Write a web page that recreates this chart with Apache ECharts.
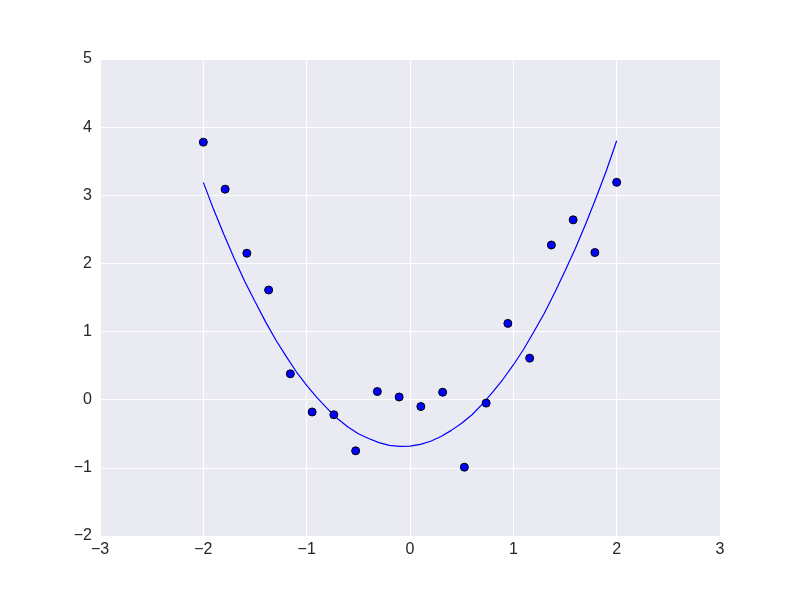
<!DOCTYPE html>
<html>
<head>
<meta charset="utf-8">
<script src="https://cdn.jsdelivr.net/npm/echarts@6/dist/echarts.min.js"></script>
<style>html,body{margin:0;padding:0;background:#fff}#c{width:800px;height:596px}</style>
</head>
<body>
<div id="c"></div>
<script>
// Scatter sample points
const pointX = [-2, -1.789, -1.579, -1.368, -1.158, -0.947, -0.737, -0.526, -0.316, -0.105,
                0.105, 0.316, 0.526, 0.737, 0.947, 1.158, 1.368, 1.579, 1.789, 2];
const pointY = [3.78, 3.09, 2.15, 1.61, 0.38, -0.18, -0.22, -0.75, 0.12, 0.04,
                -0.10, 0.11, -0.99, -0.05, 1.12, 0.61, 2.27, 2.64, 2.16, 3.19];
// Fitted curve
const curveX = [-2.0, -1.9, -1.8, -1.7, -1.6, -1.5, -1.4, -1.3, -1.2, -1.1, -1.0,
                -0.9, -0.8, -0.7, -0.6, -0.5, -0.4, -0.3, -0.2, -0.1, 0.0,
                0.1, 0.2, 0.3, 0.4, 0.5, 0.6, 0.7, 0.8, 0.9, 1.0,
                1.1, 1.2, 1.3, 1.4, 1.5, 1.6, 1.7, 1.8, 1.9, 2.0];
const curveY = [3.19, 2.79, 2.42, 2.07, 1.74, 1.44, 1.15, 0.88, 0.64, 0.41, 0.21,
                0.03, -0.13, -0.28, -0.40, -0.50, -0.57, -0.63, -0.67, -0.685, -0.68,
                -0.655, -0.61, -0.54, -0.45, -0.345, -0.22, -0.065, 0.11, 0.30, 0.51,
                0.74, 1.00, 1.27, 1.57, 1.89, 2.22, 2.58, 2.96, 3.36, 3.80];
const xTicks = [-3, -2, -1, 0, 1, 2, 3];
const yTicks = [-2, -1, 0, 1, 2, 3, 4, 5];

const fmt = v => (v < 0 ? '\u2212' + Math.abs(v) : String(v));
const chart = echarts.init(document.getElementById('c'), null, {renderer: 'canvas'});
const labelStyle = {color: '#262626', fontSize: 16, fontFamily: 'Liberation Sans, Arial, sans-serif'};
chart.setOption({
  animation: false,
  backgroundColor: '#ffffff',
  grid: {left: 100, right: 80, top: 59, bottom: 60, show: true, backgroundColor: '#EAEAF2', borderWidth: 0},
  xAxis: {
    type: 'value', min: xTicks[0], max: xTicks[xTicks.length - 1], interval: 1,
    axisLine: {show: false}, axisTick: {show: false},
    splitLine: {show: true, lineStyle: {color: '#ffffff', width: 1}},
    axisLabel: Object.assign({margin: 6, formatter: fmt}, labelStyle)
  },
  yAxis: {
    type: 'value', min: yTicks[0], max: yTicks[yTicks.length - 1], interval: 1,
    axisLine: {show: false}, axisTick: {show: false},
    splitLine: {show: true, lineStyle: {color: '#ffffff', width: 1}},
    axisLabel: Object.assign({margin: 8, formatter: fmt}, labelStyle)
  },
  series: [
    {
      type: 'line', data: curveX.map((x, i) => [x, curveY[i]]),
      smooth: false, showSymbol: false, symbol: 'none',
      lineStyle: {color: '#0000ff', width: 1.2}, z: 2
    },
    {
      type: 'scatter', data: pointX.map((x, i) => [x, pointY[i]]),
      symbol: 'circle', symbolSize: 8,
      itemStyle: {color: '#0000ff', borderColor: '#000000', borderWidth: 1, opacity: 1}, z: 3
    }
  ]
});
</script>
</body>
</html>
